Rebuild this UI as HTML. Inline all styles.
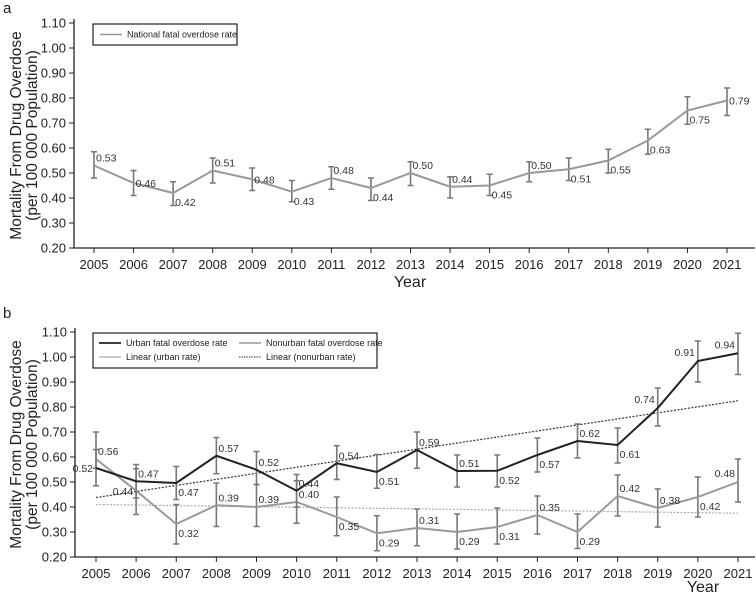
<!DOCTYPE html>
<html><head><meta charset="utf-8"><style>
body{margin:0;background:#fff}
svg{font-family:"Liberation Sans",Arial,sans-serif}
</style></head><body>
<svg id="c" width="756" height="596" xmlns="http://www.w3.org/2000/svg"></svg>
<script>
const years=[2005,2006,2007,2008,2009,2010,2011,2012,2013,2014,2015,2016,2017,2018,2019,2020,2021];
const yTicks=[0.2,0.3,0.4,0.5,0.6,0.7,0.8,0.9,1.0,1.1];
// panel a
const natVals=[0.53,0.46,0.42,0.51,0.475,0.425,0.48,0.44,0.50,0.445,0.45,0.50,0.515,0.55,0.63,0.75,0.79];
const natHi=[0.585,0.51,0.465,0.56,0.52,0.47,0.525,0.48,0.545,0.485,0.495,0.545,0.56,0.595,0.675,0.805,0.84];
const natLo=[0.48,0.41,0.37,0.46,0.43,0.385,0.435,0.39,0.45,0.40,0.41,0.465,0.47,0.50,0.575,0.695,0.73];
const natLabels=["0.53","0.46","0.42","0.51","0.48","0.43","0.48","0.44","0.50","0.44","0.45","0.50","0.51","0.55","0.63","0.75","0.79"];
const natPos=["a","r","b","a","r","b","a","b","a","a","b","a","b","b","b","b","r"];
// panel b
const urbVals=[0.556,0.503,0.496,0.605,0.549,0.465,0.575,0.54,0.628,0.544,0.545,0.608,0.664,0.648,0.796,0.984,1.015];
const urbHi=[0.70,0.57,0.562,0.678,0.622,0.53,0.645,0.61,0.70,0.608,0.608,0.676,0.732,0.716,0.876,1.064,1.095];
const urbLo=[0.485,0.436,0.43,0.533,0.49,0.40,0.51,0.475,0.555,0.48,0.48,0.54,0.596,0.576,0.724,0.90,0.93];
const urbLabels=["0.52","0.47","0.47","0.57","0.52","0.44","0.54","0.51","0.59","0.51","0.52","0.57","0.62","0.61","0.74","0.91","0.94"];
const urbPos=["l","a","b","a","a","a","a","b","a","a","b","b","a","b","al","al","al"];
const nonVals=[0.592,0.465,0.332,0.407,0.40,0.42,0.36,0.295,0.316,0.30,0.32,0.368,0.30,0.444,0.396,0.44,0.50];
const nonHi=[0.63,0.553,0.41,0.496,0.49,0.505,0.44,0.365,0.392,0.372,0.396,0.444,0.372,0.528,0.472,0.52,0.592];
const nonLo=[0.555,0.37,0.252,0.322,0.322,0.335,0.285,0.225,0.245,0.232,0.252,0.292,0.234,0.364,0.32,0.36,0.42];
const nonLabels=["0.56","0.44","0.32","0.39","0.39","0.40","0.35","0.29","0.31","0.29","0.31","0.35","0.29","0.42","0.38","0.42","0.48"];
const nonPos=["a","l","b","a","a","a","b","b","a","b","b","a","b","a","a","b","al"];
const urbTrend=[0.438,0.825];
const nonTrend=[0.41,0.375];

const svg=document.getElementById('c');
const NS="http://www.w3.org/2000/svg";
function mk(t,a,p){const e=document.createElementNS(NS,t);for(const k in a)e.setAttribute(k,a[k]);(p||svg).appendChild(e);return e;}
function txt(x,y,s,a,p){const e=mk('text',Object.assign({x:x,y:y},a),p);e.textContent=s;return e;}

function panel(o){
  const g=mk('g',{});
  
  
  const X=i=>o.x0+(o.x1-o.x0)*i/(years.length-1);
  const Y=v=>o.yb-(v-0.2)/(0.9)*(o.yb-o.yt);
  const lt=txt(3,o.letterY,o.letter,{'font-size':15,fill:'#222'},g);
  
  
  const ax=mk('path',{d:`M${o.ax} ${o.yt-4}V${o.yb}H${o.axEnd}`,stroke:'#222','stroke-width':1.3,fill:'none'},g);
  
  
  yTicks.forEach(v=>{
    mk('line',{x1:o.ax-5,x2:o.ax,y1:Y(v),y2:Y(v),stroke:'#222'},g);
    const t=txt(o.ax-8,Y(v)+4.5,v.toFixed(2),{'font-size':13,'text-anchor':'end',fill:'#222'},g);
    
    
  });
  years.forEach((yr,i)=>{
    mk('line',{x1:X(i),x2:X(i),y1:o.yb,y2:o.yb+5,stroke:'#222'},g);
    const t=txt(X(i),o.yb+21,String(yr),{'font-size':13,'text-anchor':'middle',fill:'#222'},g);
    
    
  });
  const yt=mk('text',{transform:`translate(21,${(o.yt+o.yb)/2}) rotate(-90)`,'font-size':15.5,'text-anchor':'middle',fill:'#222'},g);
  
  
  const t1=mk('tspan',{x:0,dy:0},yt);t1.textContent='Mortality From Drug Overdose';
  const t2=mk('tspan',{x:0,dy:16},yt);t2.textContent='(per 100 000 Population)';
  const xt=txt(o.yearX,o.yearY,'Year',{'font-size':16,'text-anchor':'middle',fill:'#222'},g);
  
  
  return {g,X,Y};
}
function trend(P,vals,color,dash,name){
  const l=mk('line',{x1:P.X(0),x2:P.X(years.length-1),y1:P.Y(vals[0]),y2:P.Y(vals[1]),stroke:color,'stroke-width':1.2,'stroke-dasharray':dash},P.g);
  
  
}
function series(P,vals,hi,lo,labels,pos,color,name){
  vals.forEach((v,i)=>{
    const x=P.X(i);
    const e=mk('path',{d:`M${x} ${P.Y(hi[i])}V${P.Y(lo[i])}M${x-3} ${P.Y(hi[i])}h6M${x-3} ${P.Y(lo[i])}h6`,stroke:'#777','stroke-width':1.6,fill:'none'},P.g);
    
    
  });
  const l=mk('polyline',{points:vals.map((v,i)=>P.X(i)+','+P.Y(v)).join(' '),fill:'none',stroke:color,'stroke-width':2},P.g);
  
  
  vals.forEach((v,i)=>{
    const x=P.X(i),y=P.Y(v),p=pos[i];
    let tx=x+2,ty=y+4,an='start';
    if(p==='a'){ty=y-4;}
    else if(p==='b'){ty=y+13;}
    else if(p==='l'){tx=x-3;an='end';ty=y+4;}
    else if(p==='al'){tx=x-3;an='end';ty=y-5;}
    const t=txt(tx,ty,labels[i],{'font-size':10.5,'text-anchor':an,fill:'#333'},P.g);
    
    
  });
}
function legendBox(x,y,w,h){
  const r=mk('rect',{x:x,y:y,width:w,height:h,fill:'#fff',stroke:'#222','stroke-width':1.2});
  
  
}
function legendEntry(x,y,label,color,dash,w){
  const g=mk('g',{});
  
  
  mk('line',{x1:x,x2:x+22,y1:y,y2:y,stroke:color,'stroke-width':w,'stroke-dasharray':dash},g);
  txt(x+27,y+3.2,label,{'font-size':9,fill:'#222'},g);
}

// Panel a
const A=panel({name:'panel-a',letter:'a',letterY:13,ax:74,axEnd:755,x0:94,x1:727,yt:23,yb:248,yearX:410,yearY:287});
series(A,natVals,natHi,natLo,natLabels,natPos,'#999','national');
legendBox(93,24,144,21);
legendEntry(100,34.5,'National fatal overdose rate','#999','',1.5);

// Panel b
const B=panel({name:'panel-b',letter:'b',letterY:318,ax:75,axEnd:755,x0:96,x1:738,yt:332,yb:557,yearX:703,yearY:592});
trend(B,nonTrend,'#aaa','2 1.5','nonurban-trend-line');
trend(B,urbTrend,'#333','2 1.5','urban-trend-line');
series(B,nonVals,nonHi,nonLo,nonLabels,nonPos,'#999','nonurban');
series(B,urbVals,urbHi,urbLo,urbLabels,urbPos,'#222','urban');
legendBox(93,333,284,35);
legendEntry(99,343,'Urban fatal overdose rate','#222','',1.8);
legendEntry(239,343,'Nonurban fatal overdose rate','#999','',1.5);
legendEntry(99,357,'Linear (urban rate)','#aaa','',1.2);
legendEntry(239,357,'Linear (nonurban rate)','#333','1.5 1',0.9);
</script>
</body></html>
